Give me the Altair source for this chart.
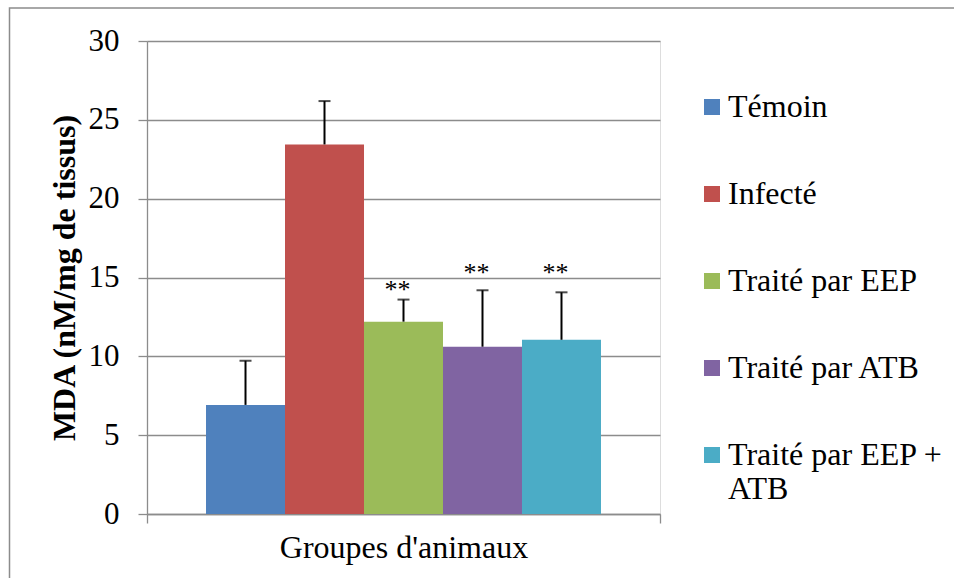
import altair as alt
import pandas as pd

# Groups and measurements (MDA, nM/mg of tissue)
groups = ["Témoin", "Infecté", "Traité par EEP", "Traité par ATB", "Traité par EEP + ATB"]
mda_mean = [6.92, 23.44, 12.2, 10.61, 11.05]
mda_err_top = [9.72, 26.19, 13.6, 14.19, 14.06]
significance = ["", "", "**", "**", "**"]
sig_y = [None, None, 13.7, 14.8, 14.8]
colors = ["#4F81BD", "#C0504D", "#9BBB59", "#8064A2", "#4BACC6"]
x_category = "Groupes d'animaux"

df = pd.DataFrame({
    "cat": [x_category] * len(groups),
    "groupe": groups,
    "mda": mda_mean,
    "top": mda_err_top,
    "sig": significance,
    "sig_y": sig_y,
})

SERIF = "'Liberation Serif', 'Times New Roman', Times, serif"
GRID = "#8C8C8C"

x_enc = alt.X("cat:N", title=None,
              scale=alt.Scale(paddingInner=0, paddingOuter=0),
              axis=alt.Axis(labelAngle=0, labelFontSize=32, labelFont=SERIF,
                            labelColor="black", labelPadding=9, labelLimit=600,
                            tickBand="extent", tickSize=9, tickColor=GRID,
                            tickWidth=1.3, domainColor=GRID, domainWidth=1.3,
                            grid=False))
xoff = alt.XOffset("groupe:N", sort=groups,
                   scale=alt.Scale(paddingOuter=0.747, paddingInner=0))
y_scale = alt.Scale(domain=[0, 30], nice=False, zero=True)

base = alt.Chart(df)

bars = base.mark_bar(size=79).encode(
    x=x_enc,
    xOffset=xoff,
    y=alt.Y("mda:Q", scale=y_scale, title="MDA (nM/mg de tissus)",
            axis=alt.Axis(values=[0, 5, 10, 15, 20, 25, 30],
                          labelFontSize=31, labelFont=SERIF, labelColor="black",
                          labelPadding=19, tickSize=9, tickColor=GRID, tickWidth=1.3,
                          domainColor=GRID, domainWidth=1.3,
                          gridColor=GRID, gridWidth=1.3,
                          titleFont=SERIF, titleFontSize=32, titleFontWeight="bold",
                          titleColor="black", titlePadding=7)),
    color=alt.Color("groupe:N", sort=groups,
                    scale=alt.Scale(domain=groups, range=colors),
                    legend=alt.Legend(
                        title=None, orient="none", legendX=549, legendY=50,
                        symbolType="square", symbolSize=256, symbolStrokeWidth=0,
                        labelFont=SERIF, labelFontSize=32, labelColor="black",
                        labelOffset=0, rowPadding=55, padding=0, labelLimit=400,
                        labelExpr="datum.label == 'Traité par EEP + ATB' ? ['Traité par EEP +', 'ATB'] : datum.label")),
)

err_rule = base.mark_rule(color="black", strokeWidth=2).encode(
    x=alt.X("cat:N"), xOffset=xoff,
    y=alt.Y("mda:Q", scale=y_scale), y2="top:Q",
)

err_cap = base.mark_tick(color="black", size=12, thickness=2).encode(
    x=alt.X("cat:N"), xOffset=xoff,
    y=alt.Y("top:Q", scale=y_scale),
)

stars = base.transform_filter("datum.sig != ''").mark_text(
    font=SERIF, fontSize=26, color="black", baseline="alphabetic", dx=-6
).encode(
    x=alt.X("cat:N"), xOffset=xoff,
    y=alt.Y("sig_y:Q", scale=y_scale),
    text="sig:N",
)

# Outer frame around the whole figure
frame = alt.Chart(pd.DataFrame({"f": [0]})).mark_rect(
    filled=False, stroke="#8C8C8C", strokeWidth=1.5, clip=False
).encode(
    x=alt.value(-137.5), x2=alt.value(820), y=alt.value(-33), y2=alt.value(560),
)

chart = alt.layer(frame, bars, err_rule, err_cap, stars).properties(
    width=513, height=473,
    autosize=alt.AutoSizeParams(type="none"),
    padding={"left": 147, "top": 41, "right": 294, "bottom": 64},
).configure_view(stroke=None).configure(background="white", font=SERIF)

chart.save("out.html", embed_options={"renderer": "svg", "actions": False})
